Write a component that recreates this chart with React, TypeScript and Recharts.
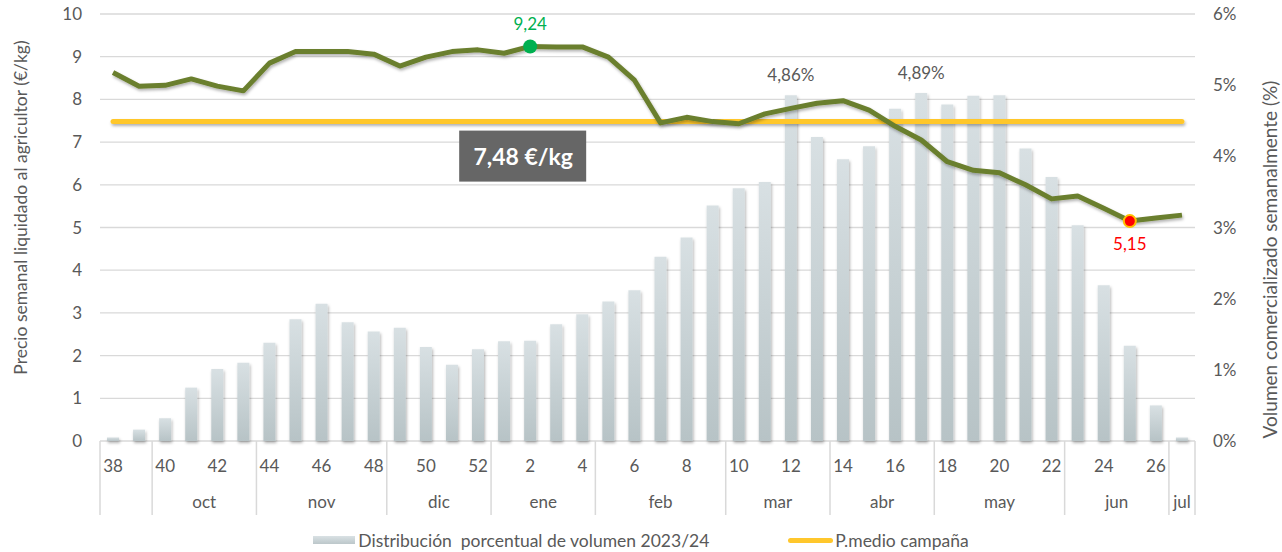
import React from 'react'
import {
  Bar,
  CartesianGrid,
  ComposedChart,
  LabelList,
  Legend,
  Line,
  XAxis,
  YAxis,
} from 'recharts'

const WEEKS = [
  38, 39, 40, 41, 42, 43, 44, 45, 46, 47, 48, 49, 50, 51, 52, 1, 2, 3, 4, 5, 6,
  7, 8, 9, 10, 11, 12, 13, 14, 15, 16, 17, 18, 19, 20, 21, 22, 23, 24, 25, 26, 27,
]

// precio semanal (€/kg)
const PRICE = [
  8.63, 8.31, 8.33, 8.48, 8.31, 8.2, 8.85, 9.12, 9.12, 9.12, 9.06, 8.78, 8.99,
  9.12, 9.16, 9.08, 9.24, 9.23, 9.23, 8.99, 8.45, 7.45, 7.58, 7.48, 7.43, 7.66,
  7.79, 7.91, 7.97, 7.75, 7.37, 7.05, 6.54, 6.34, 6.28, 6.0, 5.67, 5.74, 5.45,
  5.15, 5.22, 5.29,
]

// volumen comercializado (%)
const VOLUME = [
  0.05, 0.16, 0.32, 0.75, 1.01, 1.1, 1.38, 1.71, 1.93, 1.67, 1.54, 1.59, 1.32,
  1.07, 1.29, 1.4, 1.41, 1.64, 1.78, 1.96, 2.12, 2.59, 2.86, 3.31, 3.55, 3.64,
  4.86, 4.27, 3.96, 4.14, 4.67, 4.89, 4.73, 4.85, 4.86, 4.11, 3.71, 3.03, 2.19,
  1.34, 0.5, 0.05,
]

const AVG_PRICE = 7.48

const MONTHS = ['', 'oct', 'nov', 'dic', 'ene', 'feb', 'mar', 'abr', 'may', 'jun', 'jul']
const MONTH_SPANS = [2, 4, 5, 4, 4, 5, 4, 4, 5, 4, 1]

const PRICE_TICKS = [0, 1, 2, 3, 4, 5, 6, 7, 8, 9, 10]
const VOLUME_TICKS = [0, 1, 2, 3, 4, 5, 6]

const LABELED_VOLUME_WEEKS = [12, 17]
const MAX_PRICE_WEEK = 2
const MIN_PRICE_WEEK = 25
const AVG_LABEL_WEEK = 2

const FONT = 'Lato, "Open Sans", sans-serif'
const TEXT = '#595959'
const GRID = '#D9D9D9'

const data = WEEKS.map((week, i) => ({
  week: String(week),
  price: PRICE[i],
  volume: VOLUME[i],
  avg: AVG_PRICE,
}))

const monthStarts = MONTH_SPANS.map((_, i) =>
  MONTH_SPANS.slice(0, i).reduce((a, b) => a + b, 0),
)

const comma = (v: number, digits = 2) => v.toFixed(digits).replace('.', ',')

function WeekTick(props: any) {
  const { x, y, payload, width, visibleTicksCount } = props
  const index = props.index ?? payload.index
  const band = payload?.offset ? payload.offset * 2 : width / visibleTicksCount
  const week = WEEKS[index]
  const left = x - band / 2
  const group = monthStarts.indexOf(index)

  return (
    <g fontFamily={FONT} fill={TEXT}>
      {week % 2 === 0 && (
        <text x={x} y={y + 31} textAnchor="middle" fontSize={17} fill={TEXT}>
          {week}
        </text>
      )}
      {group >= 0 && (
        <>
          <line x1={left} x2={left} y1={y} y2={y + 74} stroke={GRID} strokeWidth={1.5} />
          <text
            x={left + (MONTH_SPANS[group] * band) / 2}
            y={y + 67}
            textAnchor="middle"
            fontSize={17}
            fill={TEXT}
          >
            {MONTHS[group]}
          </text>
        </>
      )}
      {index === WEEKS.length - 1 && (
        <line
          x1={x + band / 2}
          x2={x + band / 2}
          y1={y}
          y2={y + 74}
          stroke={GRID}
          strokeWidth={1.5}
        />
      )}
    </g>
  )
}

function PriceDot(props: any) {
  const { cx, cy, index } = props
  if (WEEKS[index] === MAX_PRICE_WEEK) {
    return <circle key={`dot-${index}`} cx={cx} cy={cy} r={7} fill="#00B050" />
  }
  if (WEEKS[index] === MIN_PRICE_WEEK) {
    return (
      <circle
        key={`dot-${index}`}
        cx={cx}
        cy={cy}
        r={6}
        fill="#FF0000"
        stroke="#FFC000"
        strokeWidth={2}
      />
    )
  }
  return <g key={`dot-${index}`} />
}

function PriceLabel(props: any) {
  const { x, y, value, index } = props
  if (WEEKS[index] === MAX_PRICE_WEEK) {
    return (
      <text x={x} y={y - 16} textAnchor="middle" fontFamily={FONT} fontSize={17} fill="#00B050">
        {comma(value)}
      </text>
    )
  }
  if (WEEKS[index] === MIN_PRICE_WEEK) {
    return (
      <text x={x} y={y + 29} textAnchor="middle" fontFamily={FONT} fontSize={17} fill="#FF0000">
        {comma(value)}
      </text>
    )
  }
  return null
}

function VolumeLabel(props: any) {
  const { x, y, width, value, index } = props
  if (!LABELED_VOLUME_WEEKS.includes(WEEKS[index])) return null
  return (
    <text
      x={x + width / 2}
      y={y - 14}
      textAnchor="middle"
      fontFamily={FONT}
      fontSize={17}
      fill={TEXT}
    >
      {`${comma(value)}%`}
    </text>
  )
}

function AvgLabel(props: any) {
  const { x, y, value, index } = props
  if (WEEKS[index] !== AVG_LABEL_WEEK) return null
  return (
    <g>
      <rect x={x - 71} y={y + 9} width={127} height={51} fill="#666666" />
      <text
        x={x - 7}
        y={y + 43}
        textAnchor="middle"
        fontFamily={FONT}
        fontWeight={700}
        fontSize={23}
        fill="#FFFFFF"
      >
        {`${comma(value)} €/kg`}
      </text>
    </g>
  )
}

function AxisTitle({ viewBox, text, side }: any) {
  const cx = side === 'left' ? viewBox.x + 20 : viewBox.x + 74
  const cy = viewBox.y + viewBox.height / 2 + (side === 'left' ? -20 : 32)
  return (
    <text
      x={cx}
      y={cy}
      transform={`rotate(-90 ${cx} ${cy})`}
      textAnchor="middle"
      dominantBaseline="central"
      fontFamily={FONT}
      fontSize={side === 'left' ? 17.5 : 19}
      fill={TEXT}
    >
      {text}
    </text>
  )
}

function ChartLegend() {
  return (
    <div
      style={{
        height: 24,
        display: 'flex',
        justifyContent: 'center',
        alignItems: 'center',
        gap: 79,
        fontFamily: FONT,
        fontSize: 17.5,
        color: TEXT,
      }}
    >
      <div style={{ display: 'flex', alignItems: 'center' }}>
        <span
          style={{
            display: 'inline-block',
            width: 42,
            height: 8,
            marginRight: 3,
            background: 'linear-gradient(#D9E1E4, #BCC7CA)',
          }}
        />
        <span style={{ whiteSpace: 'pre' }}>Distribución  porcentual de volumen 2023/24</span>
      </div>
      <div style={{ display: 'flex', alignItems: 'center' }}>
        <span
          style={{
            display: 'inline-block',
            width: 45,
            height: 5,
            borderRadius: 3,
            marginRight: 2,
            background: '#FFC72C',
          }}
        />
        <span>P.medio campaña</span>
      </div>
    </div>
  )
}

export default function App() {
  return (
    <div style={{ position: 'absolute', left: 0, top: 0, background: '#fff' }}>
      <ComposedChart
        width={1282}
        height={552}
        data={data}
        margin={{ top: 14, right: 0, bottom: 0, left: 0 }}
        barSize={12}
      >
        <defs>
          <linearGradient id="barFill" x1="0" y1="0" x2="0" y2="1">
            <stop offset="0%" stopColor="#D8E0E3" />
            <stop offset="100%" stopColor="#B7C3C6" />
          </linearGradient>
          <filter
            id="softShadow"
            filterUnits="userSpaceOnUse"
            x={0}
            y={0}
            width={1282}
            height={552}
          >
            <feDropShadow dx={1} dy={2} stdDeviation={1.5} floodColor="#000" floodOpacity={0.3} />
          </filter>
        </defs>
        <CartesianGrid
          yAxisId="left"
          vertical={false}
          stroke={GRID}
          strokeWidth={1.3}
        />
        <XAxis
          dataKey="week"
          height={87}
          interval={0}
          tickLine={false}
          axisLine={false}
          tickSize={0}
          tickMargin={0}
          tick={<WeekTick />}
        />
        <YAxis
          yAxisId="left"
          width={100}
          domain={[0, 10]}
          ticks={PRICE_TICKS}
          interval={0}
          tickLine={false}
          axisLine={false}
          tickSize={0}
          tickMargin={18}
          tick={{ fill: TEXT, fontSize: 17, fontFamily: FONT }}
          label={{
            content: (p: any) => (
              <AxisTitle
                viewBox={p.viewBox}
                side="left"
                text="Precio semanal liquidado al agricultor (€/kg)"
              />
            ),
          }}
        />
        <YAxis
          yAxisId="right"
          orientation="right"
          width={87}
          domain={[0, 6]}
          ticks={VOLUME_TICKS}
          interval={0}
          tickLine={false}
          axisLine={false}
          tickSize={0}
          tickMargin={18}
          tickFormatter={(v: number) => `${v}%`}
          tick={{ fill: TEXT, fontSize: 17, fontFamily: FONT, textAnchor: 'start' }}
          label={{
            content: (p: any) => (
              <AxisTitle
                viewBox={p.viewBox}
                side="right"
                text="Volumen comercializado semanalmente (%)"
              />
            ),
          }}
        />
        <Legend verticalAlign="bottom" height={24} content={() => <ChartLegend />} />
        <Bar
          yAxisId="right"
          dataKey="volume"
          fill="url(#barFill)"
          filter="url(#softShadow)"
          isAnimationActive={false}
          legendType="none"
        >
          <LabelList dataKey="volume" content={VolumeLabel} />
        </Bar>
        <Line
          yAxisId="left"
          dataKey="avg"
          stroke="#FFC72C"
          strokeWidth={5}
          strokeLinecap="round"
          dot={false}
          activeDot={false}
          filter="url(#softShadow)"
          isAnimationActive={false}
        >
          <LabelList dataKey="avg" content={AvgLabel} />
        </Line>
        <Line
          yAxisId="left"
          dataKey="price"
          type="linear"
          stroke="#6B7F2E"
          strokeWidth={5}
          strokeLinejoin="round"
          dot={PriceDot}
          activeDot={false}
          filter="url(#softShadow)"
          isAnimationActive={false}
        >
          <LabelList dataKey="price" content={PriceLabel} />
        </Line>
      </ComposedChart>
    </div>
  )
}
